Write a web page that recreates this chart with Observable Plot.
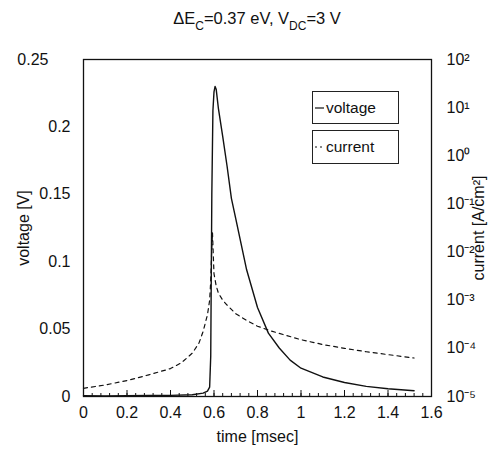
<!DOCTYPE html>
<html><head><meta charset="utf-8">
<script src="https://cdn.jsdelivr.net/npm/d3@7"></script>
<script src="https://cdn.jsdelivr.net/npm/@observablehq/plot@0.6"></script>
<style>
body{margin:0;background:#fff;font-family:"Liberation Sans",Arial,sans-serif;}
#wrap{position:relative;width:497px;height:455px;}
#title{position:absolute;left:83px;width:348px;top:9px;text-align:center;font-size:16.5px;color:#111;}
#title sub{font-size:12px;vertical-align:-6px;}
#chart{position:absolute;left:0;top:40px;}
.lg{position:absolute;border:1px solid #222;background:#fff;font-size:15.5px;color:#111;display:flex;align-items:center;box-sizing:border-box;padding-left:2px;}
.lg svg{margin-right:2px;}
</style></head><body>
<div id="wrap">
<div id="title">ΔE<sub>C</sub>=0.37 eV, V<sub>DC</sub>=3 V</div>
<div id="chart"></div>
<div class="lg" style="left:312px;top:91px;width:87px;height:33px;"><svg width="9" height="10"><line x1="0" x2="9" y1="5" y2="5" stroke="#111" stroke-width="1.2"/></svg>voltage</div>
<div class="lg" style="left:312px;top:130px;width:87px;height:34px;"><svg width="9" height="10"><line x1="0" x2="9" y1="5" y2="5" stroke="#111" stroke-width="1.2" stroke-dasharray="2,3"/></svg>current</div>
</div>
<script>
const xTicks = [0, 0.2, 0.4, 0.6, 0.8, 1, 1.2, 1.4, 1.6];
const minorTicks = d3.range(0, 1.6001, 0.04);
const yTicks = [0, 0.05, 0.1, 0.15, 0.2];
const yTopTick = [0.25];
const logTicks = [-5, -4, -3, -2, -1, 0, 1, 2];

const tV = [0, 0.1, 0.2, 0.3, 0.4, 0.5, 0.55, 0.57, 0.58, 0.585, 0.59, 0.595, 0.6, 0.605, 0.61, 0.62, 0.64, 0.66, 0.68, 0.7, 0.75, 0.8, 0.85, 0.9, 0.95, 1.0, 1.1, 1.2, 1.3, 1.4, 1.52];
const voltage = [0.0006, 0.0005, 0.0006, 0.0007, 0.0008, 0.0013, 0.0025, 0.004, 0.007, 0.03, 0.15, 0.212, 0.226, 0.23, 0.228, 0.214, 0.193, 0.171, 0.147, 0.132, 0.094, 0.066, 0.047, 0.036, 0.027, 0.021, 0.0145, 0.0104, 0.0075, 0.0058, 0.0043];

const tI = [0, 0.1, 0.2, 0.3, 0.4, 0.45, 0.5, 0.53, 0.55, 0.57, 0.58, 0.585, 0.59, 0.593, 0.597, 0.6, 0.61, 0.62, 0.64, 0.66, 0.7, 0.75, 0.8, 0.85, 0.9, 1.0, 1.1, 1.2, 1.3, 1.4, 1.52];
const currentLog = [-4.83, -4.76, -4.67, -4.55, -4.42, -4.3, -4.1, -3.9, -3.65, -3.3, -3.0, -2.6, -1.9, -1.6, -2.1, -2.45, -2.7, -2.85, -3.0, -3.1, -3.28, -3.42, -3.54, -3.62, -3.69, -3.82, -3.92, -4.0, -4.07, -4.13, -4.2];

const toY = k => (k + 5) / 7 * 0.25;
const supMap = {"-":"\u207B","0":"\u2070","1":"\u00B9","2":"\u00B2","3":"\u00B3","4":"\u2074","5":"\u2075"};
const sup = k => String(k).split("").map(c => supMap[c]).join("");

const vData = tV.map((t, i) => ({t, v: voltage[i]}));
const iData = tI.map((t, i) => ({t, y: toY(currentLog[i])}));

const plot = Plot.plot({
  width: 497, height: 415,
  marginLeft: 83, marginRight: 66, marginTop: 19, marginBottom: 59,
  x: {domain: [0, 1.6]},
  y: {domain: [0, 0.25]},
  style: {fontFamily: "'Liberation Sans', Arial, sans-serif", fontSize: "16px", color: "#111", background: "#fff"},
  marks: [
    Plot.axisX({ticks: minorTicks, tickSize: -3, text: null, label: null}),
    Plot.axisX({ticks: xTicks, tickSize: -6, text: null, label: null}),
    Plot.axisX({ticks: xTicks, tickSize: 0, tickPadding: 10, tickFormat: d => String(d), label: "time [msec]", labelAnchor: "center", labelArrow: "none", labelOffset: 45, fontSize: 16}),
    Plot.axisY({ticks: yTicks, tickSize: 0, tickPadding: 13, tickFormat: d => String(d), label: "voltage [V]", labelAnchor: "center", labelArrow: "none", labelOffset: 66, fontSize: 16}),
    Plot.axisY({ticks: yTopTick, tickSize: 0, tickPadding: 35, tickFormat: d => String(d), label: null, fontSize: 16}),
    Plot.axisY({anchor: "right", ticks: logTicks.map(toY), tickSize: 0, tickPadding: 15, tickFormat: y => "10" + sup(Math.round(y / 0.25 * 7 - 5)), label: "current [A/cm\u00B2]", labelAnchor: "center", labelArrow: "none", labelOffset: 52, fontSize: 16}),
    Plot.frame({stroke: "#111", strokeWidth: 1.3}),
    Plot.line(iData, {x: "t", y: "y", stroke: "#111", strokeWidth: 1.2, strokeDasharray: "4,4"}),
    Plot.line(vData, {x: "t", y: "v", stroke: "#111", strokeWidth: 1.4})
  ]
});
document.getElementById("chart").appendChild(plot);
</script>
</body></html>
